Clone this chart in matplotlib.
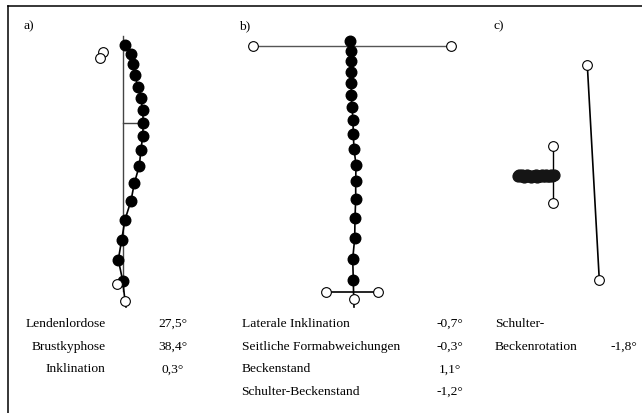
import matplotlib.pyplot as plt

plt.rcParams['font.family'] = ['Liberation Serif', 'DejaVu Serif']

# a) sagittal profile (image coordinates, y downwards)
a_x = [125.3, 130.7, 132.7, 135.0, 137.7, 140.7, 142.7, 143.3, 142.7, 141.0,
       139.3, 134.3, 131.0, 125.0, 121.7, 118.3, 122.7]
a_y = [45.7, 55.0, 65.0, 76.0, 87.7, 99.3, 111.0, 124.0, 136.7, 150.7,
       166.7, 184.3, 201.7, 220.7, 240.7, 260.7, 281.7]
a_open_x = [103.3, 100.0, 116.7, 125.0]
a_open_y = [53.3, 59.3, 285.0, 301.7]

# b) frontal profile
b_x = [350.0, 350.7, 350.7, 351.0, 351.3, 351.3, 352.0, 353.0, 353.3, 354.0,
       356.0, 355.7, 355.7, 355.0, 354.7, 352.7, 353.3]
b_y = [42.3, 52.3, 62.3, 73.3, 84.3, 96.0, 108.3, 121.0, 135.0, 150.0,
       165.7, 181.7, 200.0, 219.0, 239.3, 260.0, 281.0]
b_shoulder_x = [252.7, 450.7]
b_shoulder_y = [46.7, 46.7]
b_pelvis_x = [325.7, 377.7]
b_pelvis_y = [293.3, 293.3]

# c) transverse view
c_x = [517.5, 519.0, 520.5, 522.0, 523.5, 525.0, 526.5, 528.0, 529.5, 531.0,
       532.5, 534.0, 535.5, 537.0, 538.5, 540.0, 541.5, 543.0, 544.5, 546.0,
       547.5, 549.0, 550.5, 552.0, 553.5]
c_y = [176.6, 176.2, 177.2, 176.4, 177.6, 176.8, 176.2, 177.4, 176.9, 177.6,
       176.5, 177.1, 176.3, 177.5, 176.8, 177.2, 176.2, 177.3, 176.9, 176.4,
       177.0, 176.6, 176.2, 176.7, 176.4]
c_pelvis_x = [552.7, 552.7]
c_pelvis_y = [146.7, 204.0]
c_shoulder_x = [587.3, 599.3]
c_shoulder_y = [66.0, 281.0]

a_labels = ['Lendenlordose', 'Brustkyphose', 'Inklination']
a_values = ['27,5°', '38,4°', '0,3°']
b_labels = ['Laterale Inklination', 'Seitliche Formabweichungen', 'Beckenstand',
            'Schulter-Beckenstand']
b_values = ['-0,7°', '-0,3°', '1,1°', '-1,2°']
c_labels = ['Schulter-', 'Beckenrotation']
c_values = ['', '-1,8°']
rows_y = [324, 346.7, 369.5, 392]

fig = plt.figure(figsize=(6.42, 4.14), dpi=100)
ax = fig.add_axes([0, 0, 1, 1])
ax.set_xlim(0, 642)
ax.set_ylim(414, 0)
ax.axis('off')

# frame (top and left only)
ax.plot([8, 642], [6.5, 6.5], color='black', lw=1.1)
ax.plot([8, 8], [6.5, 414], color='black', lw=1.1)

dot = dict(marker='o', ms=7.6, mfc='black', mec='black', ls='none', zorder=3)
ring = dict(marker='o', ms=7, mfc='white', mec='black', mew=0.8, ls='none', zorder=4)

# a)
ax.plot([123.3, 123.3], [36.7, 292], color='#444444', lw=1)
ax.plot([123.3, 143.3], [124.0, 124.0], color='#444444', lw=1)
ax.plot(a_x + [125.0, 126.0], a_y + [301.7, 308.0], color='black', lw=1.2)
ax.plot(a_x, a_y, **dot)
ax.plot(a_open_x, a_open_y, **ring)

# b)
ax.plot(b_shoulder_x, b_shoulder_y, color='#555555', lw=1)
ax.plot(b_pelvis_x, b_pelvis_y, color='black', lw=1.2)
ax.plot(b_x + [353.7, 354.0], b_y + [300.0, 308.0], color='black', lw=1.2)
ax.plot(b_x, b_y, **dot)
ax.plot(b_shoulder_x + b_pelvis_x + [353.7], b_shoulder_y + b_pelvis_y + [300.0], **ring)

# c)
ax.plot(c_pelvis_x, c_pelvis_y, color='black', lw=1)
ax.plot(c_shoulder_x, c_shoulder_y, color='black', lw=1.2)
ax.plot(c_x, c_y, marker='o', ms=7.8, mfc='#151515', mec='#151515', ls='none', zorder=3)
ax.plot(c_pelvis_x + c_shoulder_x, c_pelvis_y + c_shoulder_y, **ring)

fs = 9.7
ax.text(24, 26, 'a)', fontsize=fs, va='center')
ax.text(239, 26, 'b)', fontsize=fs, va='center')
ax.text(494, 26, 'c)', fontsize=fs, va='center')

for lab, val, y in zip(a_labels, a_values, rows_y):
    ax.text(105.5, y, lab, fontsize=fs, ha='right', va='center')
    ax.text(173, y, val, fontsize=fs, ha='center', va='center')
for lab, val, y in zip(b_labels, b_values, rows_y):
    ax.text(241.5, y, lab, fontsize=fs, ha='left', va='center')
    ax.text(450, y, val, fontsize=fs, ha='center', va='center')
for lab, val, y in zip(c_labels, c_values, rows_y):
    ax.text(495, y, lab, fontsize=fs, ha='left', va='center')
    ax.text(637, y, val, fontsize=fs, ha='right', va='center')

fig.savefig('out.png', dpi=100)
